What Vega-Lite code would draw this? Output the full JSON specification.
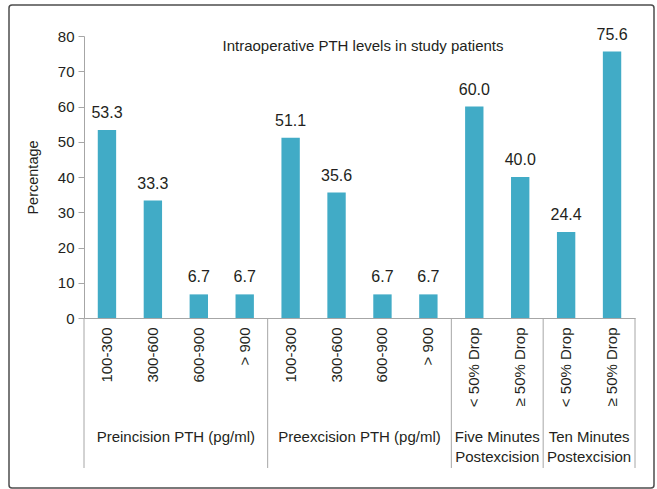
{
  "$schema": "https://vega.github.io/schema/vega-lite/v6.json",
  "width": 645,
  "height": 483,
  "autosize": {"type": "none"},
  "padding": {"left": 9, "top": 5, "right": 3, "bottom": 1},
  "config": {
    "font": "Liberation Sans",
    "view": {"stroke": "#4d4d4d", "strokeWidth": 1.5, "cornerRadius": 3},
    "text": {"color": "#231f20", "font": "Liberation Sans"}
  },
  "title": {
    "text": "Intraoperative PTH levels in study patients",
    "anchor": "middle",
    "frame": "group",
    "offset": 0,
    "baseline": "alphabetic",
    "dy": 61,
    "dx": 31.5,
    "fontSize": 15,
    "fontWeight": "normal",
    "color": "#231f20"
  },
  "datasets": {
    "bars": [
      {"k": "Preincision|100-300", "value": 53.3},
      {"k": "Preincision|300-600", "value": 33.3},
      {"k": "Preincision|600-900", "value": 6.7},
      {"k": "Preincision|> 900", "value": 6.7},
      {"k": "Preexcision|100-300", "value": 51.1},
      {"k": "Preexcision|300-600", "value": 35.6},
      {"k": "Preexcision|600-900", "value": 6.7},
      {"k": "Preexcision|> 900", "value": 6.7},
      {"k": "Five|< 50% Drop", "value": 60.0},
      {"k": "Five|≥ 50% Drop", "value": 40.0},
      {"k": "Ten|< 50% Drop", "value": 24.4},
      {"k": "Ten|≥ 50% Drop", "value": 75.6}
    ],
    "groupStarts": [
      {"k": "Preincision|100-300"},
      {"k": "Preexcision|100-300"},
      {"k": "Five|< 50% Drop"},
      {"k": "Ten|< 50% Drop"}
    ],
    "groupEnd": [
      {"k": "Ten|≥ 50% Drop"}
    ],
    "groups": [
      {"k": "Preincision|600-900", "label": "Preincision PTH (pg/ml)"},
      {"k": "Preexcision|600-900", "label": "Preexcision PTH (pg/ml)"},
      {"k": "Five|≥ 50% Drop", "label": "Five Minutes\nPostexcision"},
      {"k": "Ten|≥ 50% Drop", "label": "Ten Minutes\nPostexcision"}
    ]
  },
  "resolve": {"scale": {"x": "shared", "y": "shared"}},
  "layer": [
    {
      "data": {"name": "bars"},
      "mark": {"type": "bar", "color": "#41abc6"},
      "encoding": {
        "x": {
          "field": "k",
          "type": "nominal",
          "scale": {
            "domain": [
              "Preincision|100-300", "Preincision|300-600", "Preincision|600-900", "Preincision|> 900",
              "Preexcision|100-300", "Preexcision|300-600", "Preexcision|600-900", "Preexcision|> 900",
              "Five|< 50% Drop", "Five|≥ 50% Drop", "Ten|< 50% Drop", "Ten|≥ 50% Drop"
            ],
            "range": [75, 626],
            "paddingInner": 0.6,
            "paddingOuter": 0.3
          },
          "axis": {
            "orient": "bottom",
            "offset": -170,
            "title": null,
            "ticks": false,
            "domainColor": "#a6a6a6",
            "domainWidth": 1,
            "labelAngle": -90,
            "labelAlign": "right",
            "labelBaseline": "middle",
            "labelPadding": 9,
            "labelFontSize": 15,
            "labelColor": "#231f20",
            "labelExpr": "split(datum.value, '|')[1]"
          }
        },
        "y": {
          "field": "value",
          "type": "quantitative",
          "scale": {"domain": [0, 80], "range": [313, 31], "nice": false},
          "axis": {
            "orient": "left",
            "offset": -75,
            "values": [0, 10, 20, 30, 40, 50, 60, 70, 80],
            "grid": false,
            "domainColor": "#a6a6a6",
            "tickColor": "#a6a6a6",
            "tickSize": 6,
            "labelPadding": 4,
            "labelFontSize": 15,
            "labelColor": "#231f20",
            "title": "Percentage",
            "titleFontSize": 14.5,
            "titleFontWeight": "normal",
            "titleColor": "#231f20",
            "titlePadding": 17
          }
        }
      }
    },
    {
      "data": {"name": "bars"},
      "mark": {"type": "text", "baseline": "alphabetic", "dy": -12, "fontSize": 16},
      "encoding": {
        "x": {"field": "k", "type": "nominal"},
        "y": {"field": "value", "type": "quantitative"},
        "text": {"field": "value", "type": "quantitative", "format": ".1f"}
      }
    },
    {
      "data": {"name": "groupStarts"},
      "mark": {"type": "rule", "color": "#a6a6a6", "strokeWidth": 1},
      "encoding": {
        "x": {"field": "k", "type": "nominal", "bandPosition": -0.75},
        "y": {"datum": 0, "type": "quantitative"},
        "y2": {"datum": -42.55}
      }
    },
    {
      "data": {"name": "groupEnd"},
      "mark": {"type": "rule", "color": "#a6a6a6", "strokeWidth": 1},
      "encoding": {
        "x": {"field": "k", "type": "nominal", "bandPosition": 1.75},
        "y": {"datum": 0, "type": "quantitative"},
        "y2": {"datum": -42.55}
      }
    },
    {
      "data": {"name": "groups"},
      "mark": {"type": "text", "baseline": "alphabetic", "align": "center", "fontSize": 15, "lineBreak": "\n", "lineHeight": 20},
      "encoding": {
        "x": {"field": "k", "type": "nominal", "bandPosition": -0.75},
        "y": {"datum": -35.1, "type": "quantitative"},
        "text": {"field": "label", "type": "nominal"}
      }
    }
  ]
}
